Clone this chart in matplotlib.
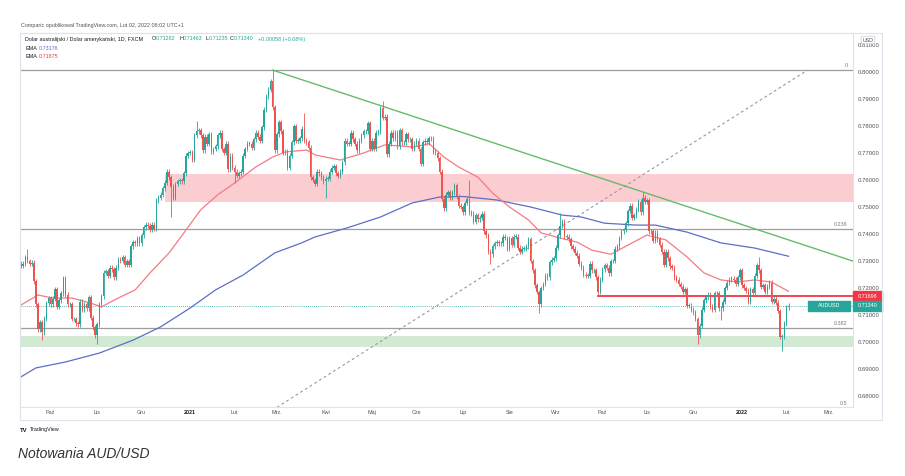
import numpy as np
import pandas as pd
import matplotlib
matplotlib.use("Agg")
import matplotlib.pyplot as plt
import matplotlib.transforms as mtransforms
from matplotlib.patches import Rectangle

W, H = 905, 476

# AUD/USD daily closes (FXCM); one row per week (Mon..Fri)
FIRST_DATE = "2020-09-11"
FIRST_OPEN = 0.7290
closes = [
    0.7282,
    # 2020
    0.7290, 0.7314, 0.7300, 0.7290, 0.7294,  # Sep 14
    0.7225, 0.7140, 0.7047, 0.7073, 0.7036,  # Sep 21
    0.7087, 0.7144, 0.7162, 0.7140, 0.7160,  # Sep 28
    0.7195, 0.7130, 0.7155, 0.7180, 0.7236,  # Oct 5
    0.7175, 0.7140, 0.7140, 0.7085, 0.7085,  # Oct 12
    0.7070, 0.7065, 0.7150, 0.7120, 0.7140,  # Oct 19
    0.7125, 0.7165, 0.7090, 0.7055, 0.7025,  # Oct 26
    0.7066, 0.7140, 0.7170, 0.7257, 0.7263,  # Nov 2
    0.7245, 0.7275, 0.7270, 0.7240, 0.7275,  # Nov 9
    0.7305, 0.7300, 0.7315, 0.7285, 0.7300,  # Nov 16
    0.7285, 0.7355, 0.7370, 0.7365, 0.7385,  # Nov 23
    0.7365, 0.7395, 0.7425, 0.7435, 0.7430,  # Nov 30
    0.7415, 0.7435, 0.7420, 0.7525, 0.7535,  # Dec 7
    0.7545, 0.7570, 0.7590, 0.7630, 0.7610,  # Dec 14
    0.7575, 0.7535, 0.7585, 0.7595, 0.7600,  # Dec 21
    0.7595, 0.7625, 0.7690, 0.7700, 0.7702,  # Dec 28
    # 2021
    0.7675, 0.7765, 0.7780, 0.7785, 0.7765,  # Jan 4
    0.7710, 0.7760, 0.7735, 0.7770, 0.7705,  # Jan 11
    0.7715, 0.7725, 0.7765, 0.7775, 0.7715,  # Jan 18
    0.7700, 0.7735, 0.7640, 0.7690, 0.7645,  # Jan 25
    0.7630, 0.7615, 0.7625, 0.7630, 0.7690,  # Feb 1
    0.7715, 0.7735, 0.7735, 0.7720, 0.7750,  # Feb 8
    0.7775, 0.7760, 0.7745, 0.7795, 0.7860,  # Feb 15
    0.7910, 0.7935, 0.7965, 0.7870, 0.7710,  # Feb 22
    0.7770, 0.7815, 0.7780, 0.7700, 0.7705,  # Mar 1
    0.7645, 0.7690, 0.7740, 0.7800, 0.7745,  # Mar 8
    0.7745, 0.7755, 0.7790, 0.7745, 0.7740,  # Mar 15
    0.7720, 0.7610, 0.7600, 0.7585, 0.7630,  # Mar 22
    0.7625, 0.7610, 0.7595, 0.7605, 0.7605,  # Mar 29
    0.7630, 0.7645, 0.7650, 0.7625, 0.7615,  # Apr 5
    0.7630, 0.7665, 0.7745, 0.7735, 0.7735,  # Apr 12
    0.7775, 0.7750, 0.7735, 0.7710, 0.7745,  # Apr 19
    0.7765, 0.7780, 0.7780, 0.7810, 0.7715,  # Apr 26
    0.7745, 0.7715, 0.7775, 0.7780, 0.7865,  # May 3
    0.7830, 0.7835, 0.7695, 0.7735, 0.7775,  # May 10
    0.7755, 0.7775, 0.7725, 0.7785, 0.7740,  # May 17
    0.7740, 0.7770, 0.7750, 0.7750, 0.7715,  # May 24
    0.7735, 0.7745, 0.7715, 0.7660, 0.7740,  # May 31
    0.7745, 0.7740, 0.7755, 0.7755, 0.7705,  # Jun 7
    0.7700, 0.7680, 0.7630, 0.7530, 0.7495,  # Jun 14
    0.7545, 0.7555, 0.7535, 0.7555, 0.7580,  # Jun 21
    0.7540, 0.7505, 0.7500, 0.7480, 0.7515,  # Jun 28
    0.7530, 0.7480, 0.7475, 0.7445, 0.7470,  # Jul 5
    0.7455, 0.7460, 0.7475, 0.7410, 0.7395,  # Jul 12
    0.7335, 0.7325, 0.7355, 0.7365, 0.7370,  # Jul 19
    0.7365, 0.7365, 0.7390, 0.7385, 0.7345,  # Jul 26
    0.7385, 0.7360, 0.7390, 0.7390, 0.7350,  # Aug 2
    0.7335, 0.7345, 0.7345, 0.7355, 0.7380,  # Aug 9
    0.7300, 0.7265, 0.7210, 0.7185, 0.7140,  # Aug 16
    0.7200, 0.7215, 0.7245, 0.7240, 0.7295,  # Aug 23
    0.7305, 0.7310, 0.7350, 0.7395, 0.7430,  # Aug 30
    0.7445, 0.7390, 0.7390, 0.7380, 0.7355,  # Sep 6
    0.7345, 0.7330, 0.7320, 0.7290, 0.7275,  # Sep 13
    0.7250, 0.7245, 0.7245, 0.7290, 0.7265,  # Sep 20
    0.7265, 0.7240, 0.7185, 0.7230, 0.7270,  # Sep 27
    0.7285, 0.7275, 0.7255, 0.7300, 0.7300,  # Oct 4
    0.7345, 0.7355, 0.7385, 0.7410, 0.7415,  # Oct 11
    0.7440, 0.7485, 0.7505, 0.7460, 0.7470,  # Oct 18
    0.7490, 0.7520, 0.7480, 0.7535, 0.7520,  # Oct 25
    0.7525, 0.7410, 0.7410, 0.7375, 0.7405,  # Nov 1
    0.7380, 0.7360, 0.7335, 0.7285, 0.7335,  # Nov 8
    0.7310, 0.7280, 0.7275, 0.7240, 0.7230,  # Nov 15
    0.7215, 0.7205, 0.7185, 0.7195, 0.7135,  # Nov 22
    0.7135, 0.7120, 0.7110, 0.7085, 0.7025,  # Nov 29
    0.7060, 0.7120, 0.7155, 0.7165, 0.7175,  # Dec 6
    0.7130, 0.7120, 0.7180, 0.7180, 0.7125,  # Dec 13
    0.7125, 0.7150, 0.7200, 0.7220, 0.7230,  # Dec 20
    0.7235, 0.7230, 0.7215, 0.7240, 0.7265,  # Dec 27
    # 2022
    0.7210, 0.7200, 0.7190, 0.7150, 0.7195,  # Jan 3
    0.7180, 0.7245, 0.7285, 0.7265, 0.7205,  # Jan 10
    0.7210, 0.7185, 0.7205, 0.7220, 0.7150,  # Jan 17
    0.7160, 0.7145, 0.7115, 0.7020, 0.7020,  # Jan 24
    0.7070, 0.71282, 0.71340,                # Jan 31
]

# notable wick extremes visible on the chart
high_marks = {
    "2020-09-16": 0.7345, "2020-10-09": 0.7245, "2021-01-06": 0.7820,
    "2021-02-25": 0.8007, "2021-03-18": 0.7849, "2021-05-10": 0.7891,
    "2021-07-06": 0.7599, "2021-09-03": 0.7478, "2021-10-28": 0.7556,
    "2022-01-13": 0.7315,
}
low_marks = {
    "2020-09-25": 0.7006, "2020-11-02": 0.6991, "2020-12-21": 0.7462,
    "2021-02-01": 0.7590, "2021-04-01": 0.7532, "2021-07-20": 0.7290,
    "2021-08-20": 0.7106, "2021-09-29": 0.7170, "2021-12-03": 0.6993,
    "2021-12-20": 0.7083, "2022-01-28": 0.6967,
}

# EMA lines
ema200_dates = ["2020-09-11", "2020-09-22", "2020-10-12", "2020-11-03", "2020-11-25",
                "2020-12-14", "2021-01-01", "2021-01-19", "2021-02-05", "2021-02-26",
                "2021-03-17", "2021-03-25", "2021-04-15", "2021-05-07", "2021-05-28",
                "2021-06-16", "2021-07-01", "2021-07-23", "2021-08-16", "2021-09-06",
                "2021-09-17", "2021-10-04", "2021-10-25", "2021-11-05", "2021-11-26",
                "2021-12-20", "2022-01-11", "2022-02-02"]
ema200_vals = [0.6871, 0.6904, 0.6926, 0.6959, 0.7007,
               0.7056, 0.7126, 0.7193, 0.7248, 0.7330,
               0.7368, 0.7389, 0.7422, 0.7463, 0.7515,
               0.7537, 0.7539, 0.7526, 0.7500, 0.7470,
               0.7463, 0.7440, 0.7433, 0.7433, 0.7407,
               0.7367, 0.7348, 0.73176]

ema50_dates = ["2020-09-11", "2020-09-23", "2020-10-02", "2020-10-15", "2020-10-28",
               "2020-11-04", "2020-11-16", "2020-11-26", "2020-12-07", "2020-12-18",
               "2020-12-29", "2021-01-08", "2021-01-20", "2021-02-01", "2021-02-15",
               "2021-02-25", "2021-03-05", "2021-03-19", "2021-03-25", "2021-04-12",
               "2021-04-27", "2021-05-11", "2021-05-31", "2021-06-09", "2021-06-18",
               "2021-06-29", "2021-07-12", "2021-07-21", "2021-08-02", "2021-08-13",
               "2021-08-23", "2021-09-03", "2021-09-15", "2021-09-24", "2021-10-07",
               "2021-10-21", "2021-11-01", "2021-11-12", "2021-11-26", "2021-12-08",
               "2021-12-20", "2021-12-30", "2022-01-11", "2022-01-21", "2022-02-02"]
ema50_vals = [0.7137, 0.7174, 0.7163, 0.7163, 0.7144,
              0.7130, 0.7163, 0.7193, 0.7256, 0.7330,
              0.7404, 0.7490, 0.7545, 0.7589, 0.7648,
              0.7685, 0.7704, 0.7711, 0.7693, 0.7674,
              0.7700, 0.7730, 0.7722, 0.7735, 0.7685,
              0.7648, 0.7611, 0.7552, 0.7500, 0.7452,
              0.7404, 0.7385, 0.7370, 0.7340, 0.7325,
              0.7367, 0.7396, 0.7378, 0.7315, 0.7256,
              0.7230, 0.7222, 0.7230, 0.7222, 0.71875]

# drawings
res_zone = ("2020-12-16", 0.7518, 0.7621)
sup_zone = (0.6980, 0.7022)
fib_low, fib_high = 0.5506, 0.8007
fib_levels = [0, 0.236, 0.382, 0.5]
level_start, level_price = "2021-09-29", 0.71698
last_price = 0.71340
trend_pts = [("2021-02-25", 0.8007), ("2021-10-28", 0.7556)]
diag_pts = [("2021-03-01", 0.6758), ("2022-02-15", 0.8007)]
month_labels = ["Paź", "Lis", "Gru", "2021", "Lut", "Mrz.", "Kwi", "Maj", "Cze",
                "Lip", "Sie", "Wrz", "Paź", "Lis", "Gru", "2022", "Lut", "Mrz."]

GREEN, RED = "#26a69a", "#ef5350"
TXT = "#50535e"
FONT = "Liberation Sans"
plt.rcParams["font.family"] = [FONT, "DejaVu Sans"]

n = len(closes)
axis_dates = pd.bdate_range(FIRST_DATE, periods=394)


def idx(d):
    return int(np.searchsorted(axis_dates, pd.to_datetime(d)))


c = np.array(closes)
o = np.r_[FIRST_OPEN, c[:-1]]
hi = np.maximum(o, c) + 0.0009
lo = np.minimum(o, c) - 0.0009
for d, v in high_marks.items():
    hi[idx(d)] = v
for d, v in low_marks.items():
    lo[idx(d)] = v
x = np.arange(n)
up = c >= o
cols = np.where(up, GREEN, RED)

fig = plt.figure(figsize=(W / 100, H / 100), dpi=100)
ax = fig.add_axes([20 / W, 1 - 407 / H, 833 / W, 374 / H])
xl = (-0.5, 393.5)
ax.set_xlim(*xl)
ax.set_ylim(0.67593, 0.81444)

# zones
ax.add_patch(Rectangle((idx(res_zone[0]), res_zone[1]), xl[1] - idx(res_zone[0]),
                       res_zone[2] - res_zone[1], color="#f23645", alpha=0.25, lw=0, zorder=1))
ax.add_patch(Rectangle((xl[0], sup_zone[0]), xl[1] - xl[0], sup_zone[1] - sup_zone[0],
                       color="#4caf50", alpha=0.25, lw=0, zorder=1))

# fibonacci levels
for lv in fib_levels:
    p = fib_high - lv * (fib_high - fib_low)
    ax.axhline(p, color="#9e9e9e", lw=0.9, zorder=1.5)
    ax.text(xl[1] - 2.5, p + 0.0008, f"{lv:g}", ha="right", va="bottom",
            fontsize=3.9, color="#787b86")

# dashed diagonal
(d1, p1), (d2, p2) = diag_pts
ax.plot([idx(d1), idx(d2)], [p1, p2], color="#9598a1", lw=0.8, ls=(0, (2.5, 2.5)), zorder=1.6)

# EMAs
ax.plot([idx(d) for d in ema200_dates], ema200_vals, color="#5b6fc7", lw=0.9, zorder=2,
        solid_joinstyle="round")
ax.plot([idx(d) for d in ema50_dates], ema50_vals, color="#f27c83", lw=0.9, zorder=2,
        solid_joinstyle="round")

# trend line from the Feb 2021 high
(t1, v1), (t2, v2) = trend_pts
slope = (v2 - v1) / (idx(t2) - idx(t1))
ax.plot([idx(t1), xl[1]], [v1, v1 + slope * (xl[1] - idx(t1))], color="#66bb6a", lw=1.0, zorder=2)

# horizontal level and last price
ax.plot([idx(level_start), xl[1]], [level_price] * 2, color="#f23645", lw=1.3, zorder=2.5)
ax.axhline(last_price, color=GREEN, lw=0.6, ls=(0, (1, 1.5)), zorder=1.5)

# candles
ax.vlines(x, lo, hi, colors=cols, lw=0.6, zorder=3)
ax.bar(x, np.maximum(np.abs(c - o), 0.00018), bottom=np.minimum(o, c), width=0.72,
       color=cols, lw=0, zorder=3.5)

# axes styling
for s in ax.spines.values():
    s.set_color("#e0e3eb")
    s.set_linewidth(0.8)
yt = np.arange(0.68, 0.8101, 0.01)
ax.set_yticks(yt)
ax.set_yticklabels([f"{v:.5f}" for v in yt])
ax.yaxis.tick_right()
ax.tick_params(axis="y", length=0, pad=3.5, labelsize=4.3, colors=TXT)
month_pos = []
for lab_d in pd.date_range("2020-10-01", periods=len(month_labels), freq="MS"):
    month_pos.append(idx(lab_d))
ax.set_xticks(month_pos)
ax.set_xticklabels(month_labels)
ax.tick_params(axis="x", length=0, pad=2, labelsize=3.9, colors=TXT)
for t in ax.get_xticklabels():
    if t.get_text() in ("2021", "2022"):
        t.set_fontweight("bold")
        t.set_color("#131722")

# price tags on the axis
blend = mtransforms.blended_transform_factory(ax.transAxes, ax.transData)
tag_w = 29 / 833
tag_h = 10 / 2700
for price, col in [(level_price, "#f23645"), (last_price, GREEN)]:
    ax.add_patch(Rectangle((1.0, price - tag_h / 2), tag_w, tag_h, transform=blend,
                           color=col, clip_on=False, zorder=5))
    ax.text(1.0 + tag_w / 2, price, f"{price:.5f}", transform=blend, ha="center",
            va="center", fontsize=3.9, color="white", zorder=6, clip_on=False)
ax.add_patch(Rectangle(((808 - 20) / 833, last_price - tag_h / 2), 42 / 833, tag_h,
                       transform=blend, color=GREEN, zorder=5))
ax.text((829 - 20) / 833, last_price, "AUDUSD", transform=blend, ha="center", va="center",
        fontsize=3.9, color="white", zorder=6)

# outer frame
fig.patches.append(Rectangle((20 / W, 1 - 420 / H), 862 / W, 387 / H, transform=fig.transFigure,
                             fill=False, edgecolor="#e0e3eb", lw=0.8))
fig.text(868 / W, 1 - 40 / H, "USD", ha="center", va="center", fontsize=3.8, color=TXT,
         bbox=dict(boxstyle="round,pad=0.25", fc="white", ec="#c8cad0", lw=0.5))


def ftext(px, py, s, **kw):
    kw.setdefault("fontsize", 3.9)
    kw.setdefault("color", "#131722")
    fig.text(px / W, 1 - py / H, s, va="center", ha="left", **kw)


# header and legend
ftext(21, 26, "Comparic opublikował TradingView.com, Lut 02, 2022 08:02 UTC+1", color=TXT)
ftext(25, 39, "Dolar australijski / Dolar amerykański, 1D, FXCM")
for px_, lab, val in [(152, "O", "0.71282"), (179, "H", "0.71463"),
                      (205, "L", "0.71235"), (230, "C", "0.71340")]:
    ftext(px_, 39, lab)
    ftext(px_ + 3.8, 39, val, color=GREEN)
ftext(258, 39, "+0.00058 (+0.08%)", color=GREEN)
ftext(25, 48, "EMA")
ftext(39, 48, "0.73176", color="#5b6fc7")
ftext(25, 56, "EMA")
ftext(39, 56, "0.71875", color="#f23645")

ftext(20, 430, "TV", fontweight="bold", fontsize=4.3)
ftext(30, 430, "TradingView", fontsize=3.9)
ftext(18, 454, "Notowania AUD/USD", fontsize=10, style="italic", color="#333333")

fig.savefig("out.png", dpi=100)
